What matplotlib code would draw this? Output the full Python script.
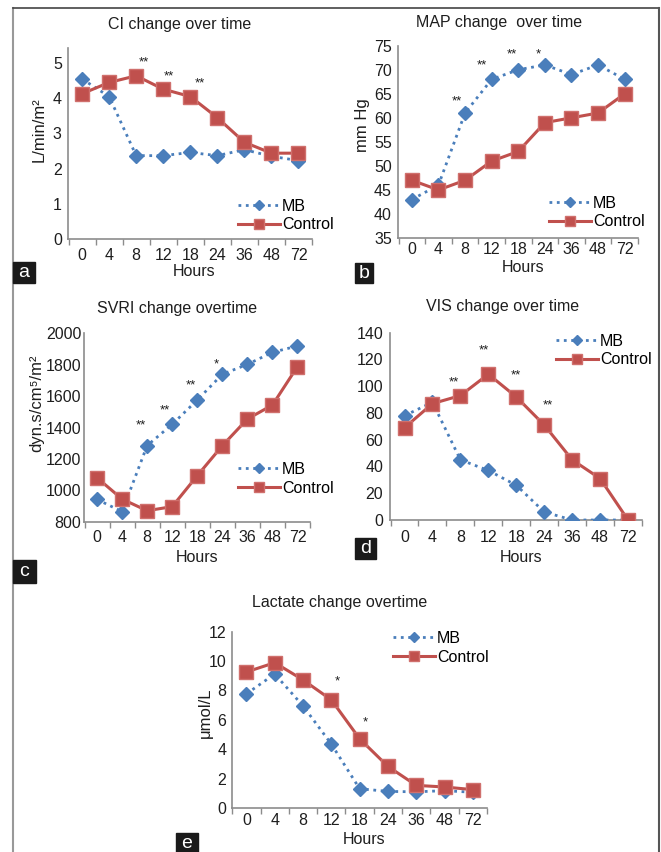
import numpy as np
import matplotlib
matplotlib.use('Agg')
import matplotlib.pyplot as plt
from matplotlib.lines import Line2D
from matplotlib.patches import Rectangle

plt.rcParams['font.family'] = ['Liberation Sans', 'DejaVu Sans']

W, H = 661, 852
FS = 11.5

# Dane
hours = ['0', '4', '8', '12', '18', '24', '36', '48', '72']

ci_mb = [4.55, 4.05, 2.37, 2.37, 2.46, 2.37, 2.54, 2.35, 2.23]
ci_ctrl = [4.13, 4.45, 4.64, 4.26, 4.05, 3.45, 2.75, 2.44, 2.44]
ci_stars = [(2.3, 5.14, '**'), (3.2, 4.73, '**'), (4.36, 4.53, '**')]

map_mb = [43, 46, 61, 68, 70, 71, 69, 71, 68]
map_ctrl = [47, 45, 47, 51, 53, 59, 60, 61, 65]
map_stars = [(1.7, 64.2, '**'), (2.64, 71.8, '**'), (3.75, 74, '**'), (4.74, 74, '*')]

svri_mb = [942, 864, 1285, 1420, 1575, 1739, 1802, 1879, 1919]
svri_ctrl = [1080, 944, 870, 896, 1093, 1284, 1454, 1543, 1788]
svri_stars = [(1.73, 1437, '**'), (2.7, 1537, '**'), (3.74, 1692, '**'), (4.75, 1826, '*')]

vis_mb = [78, 88, 45, 37, 26, 6, 0, 0, 0]
vis_ctrl = [69, 87, 93, 109, 92, 71, 45, 31, 0]
vis_stars = [(1.75, 106, '**'), (2.85, 130, '**'), (4.0, 111, '**'), (5.12, 89, '**')]

lac_mb = [7.77, 9.12, 6.95, 4.35, 1.31, 1.13, 1.1, 1.18, 1.07]
lac_ctrl = [9.26, 9.89, 8.72, 7.36, 4.71, 2.83, 1.54, 1.43, 1.25]
lac_stars = [(3.2, 8.87, '*'), (4.2, 6.1, '*')]

BLUE = '#4A7EBB'
RED = '#C0504D'
AXC = '#8C8C8C'
TXT = '#1e1e1e'


def fx(x):
    return x / W


def fy(y):
    return 1 - y / H


fig = plt.figure(figsize=(W / 100, H / 100), dpi=100)


def panel(box, mb, ctrl, ylim, yticks, stars, title, title_xy, hours_xy,
          ylabel, ylabel_xy, leg_xy, tag, tag_box, xpad, ypad):
    x0, y0, x1, y1 = box
    ax = fig.add_axes([fx(x0), fy(y1), (x1 - x0) / W, (y1 - y0) / H])
    x = np.arange(len(hours))
    ax.plot(x, mb, linestyle=':', lw=2, color=BLUE, marker='D', ms=7,
            mfc=BLUE, mec=BLUE, label='MB', zorder=3)
    ax.plot(x, ctrl, linestyle='-', lw=2.2, color=RED, marker='s', ms=9.5,
            mfc=RED, mec='#D0706D', mew=1, label='Control', zorder=4)
    ax.set_xlim(-0.52, 8.5)
    ax.set_ylim(*ylim)
    ax.set_yticks(yticks)
    ax.set_xticks(x)
    ax.set_xticklabels(hours)
    ax.set_xticks(np.arange(-0.5, 9, 1), minor=True)
    ax.tick_params(axis='x', which='major', length=0, labelsize=FS, pad=xpad, colors=TXT)
    ax.tick_params(axis='x', which='minor', length=4, color=AXC, width=1)
    ax.tick_params(axis='y', length=0, labelsize=FS, pad=ypad, colors=TXT)
    for s in ['top', 'right']:
        ax.spines[s].set_visible(False)
    for s in ['left', 'bottom']:
        ax.spines[s].set_color(AXC)
        ax.spines[s].set_linewidth(1.2)
    for sx, sy, txt in stars:
        ax.annotate(txt, (sx, sy), xytext=(0, -3), textcoords='offset points',
                    ha='center', va='center', fontsize=9.5, color=TXT)
    ax.legend(loc='center left', bbox_to_anchor=(fx(leg_xy[0]), fy(leg_xy[1])),
              bbox_transform=fig.transFigure, frameon=False, borderpad=0,
              borderaxespad=0, handlelength=2.6, handletextpad=0.15,
              labelspacing=0.25, fontsize=FS, markerscale=0.8)
    fig.text(fx(title_xy[0]), fy(title_xy[1]), title, ha='center', va='center',
             fontsize=FS, color=TXT)
    fig.text(fx(hours_xy[0]), fy(hours_xy[1]), 'Hours', ha='center', va='center',
             fontsize=FS, color=TXT)
    if ylabel:
        fig.text(fx(ylabel_xy[0]), fy(ylabel_xy[1]), ylabel, ha='center', va='center',
                 rotation=90, fontsize=12, color=TXT)
    bx0, by0, bx1, by1 = tag_box
    fig.patches.append(Rectangle((fx(bx0), fy(by1)), (bx1 - bx0) / W, (by1 - by0) / H,
                                 transform=fig.transFigure, color='#1a1a1a', zorder=5))
    fig.text(fx((bx0 + bx1) / 2), fy((by0 + by1) / 2), tag, ha='center', va='center',
             fontsize=14, color='white', zorder=6)
    return ax


panel((68, 48, 312, 239), ci_mb, ci_ctrl, (0, 5.43), range(0, 6), ci_stars,
      'CI change over time', (180, 25), (194, 272), 'L/min/m²', (39, 130),
      (238, 215.5), 'a', (13, 262, 35, 283), 6.5, 4.5)

panel((398, 45.7, 638, 238), map_mb, map_ctrl, (35, 75), range(35, 80, 5), map_stars,
      'MAP change  over time', (499, 23), (523, 268), 'mm Hg', (363, 125),
      (549, 212.5), 'b', (355, 263, 373, 283), 3, 4.5)

panel((84, 333.3, 310, 521.7), svri_mb, svri_ctrl, (800, 2000), range(800, 2200, 200),
      svri_stars, 'SVRI change overtime', (177, 308), (197, 557), 'dyn.s/cm⁵/m²',
      (37, 403), (238, 479), 'c', (13, 560, 36, 583), 6, 2)

panel((390, 332.7, 642, 520), vis_mb, vis_ctrl, (0, 140), range(0, 160, 20), vis_stars,
      'VIS change over time', (503, 307), (521, 557), None, None,
      (556, 350.5), 'd', (355, 538, 376, 559), 7, 5)

panel((231.7, 631.7, 487, 808), lac_mb, lac_ctrl, (0, 12), range(0, 14, 2), lac_stars,
      'Lactate change overtime', (340, 603), (364, 839), 'μmol/L', (205, 713),
      (393, 648), 'e', (176, 833, 198, 853), 3.5, 4)

# ramka
fig.lines.append(Line2D([fx(13), fx(13)], [fy(8), fy(852)], transform=fig.transFigure,
                        color='#999999', lw=1.5))
fig.lines.append(Line2D([fx(13), fx(659)], [fy(8), fy(8)], transform=fig.transFigure,
                        color='#444444', lw=1.2))
fig.lines.append(Line2D([fx(659), fx(659)], [fy(8), fy(852)], transform=fig.transFigure,
                        color='#555555', lw=1.5))

fig.savefig('out.png', dpi=100)
